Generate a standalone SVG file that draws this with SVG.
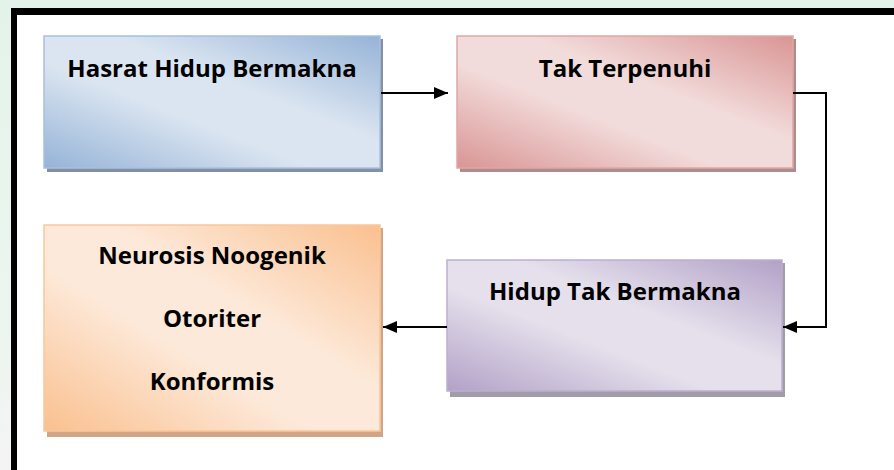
<svg xmlns="http://www.w3.org/2000/svg" width="894" height="470" viewBox="0 0 894 470">
  <defs>
    <linearGradient id="gBlue" x1="1" y1="0" x2="0" y2="1">
      <stop offset="0" stop-color="#95b3d7"/>
      <stop offset="0.4" stop-color="#dbe5f1"/>
      <stop offset="0.6" stop-color="#dbe5f1"/>
      <stop offset="1" stop-color="#95b3d7"/>
    </linearGradient>
    <linearGradient id="gRed" x1="1" y1="0" x2="0" y2="1">
      <stop offset="0" stop-color="#d99594"/>
      <stop offset="0.4" stop-color="#f2dcdb"/>
      <stop offset="0.6" stop-color="#f2dcdb"/>
      <stop offset="1" stop-color="#d99594"/>
    </linearGradient>
    <linearGradient id="gPurple" x1="1" y1="0" x2="0" y2="1">
      <stop offset="0" stop-color="#b2a1c7"/>
      <stop offset="0.4" stop-color="#e5e0ec"/>
      <stop offset="0.6" stop-color="#e5e0ec"/>
      <stop offset="1" stop-color="#b2a1c7"/>
    </linearGradient>
    <linearGradient id="gOrange" x1="1" y1="0" x2="0" y2="1">
      <stop offset="0" stop-color="#fac08f"/>
      <stop offset="0.4" stop-color="#fde9d9"/>
      <stop offset="0.6" stop-color="#fde9d9"/>
      <stop offset="1" stop-color="#fac08f"/>
    </linearGradient>
    <linearGradient id="gSide" x1="0" y1="0" x2="0" y2="1">
      <stop offset="0" stop-color="#e4f3ea"/>
      <stop offset="0.7" stop-color="#edf5f0"/>
      <stop offset="1" stop-color="#f4f4f4"/>
    </linearGradient>
    <marker id="ah" viewBox="0 0 14 12" refX="14" refY="6" markerWidth="14" markerHeight="12" markerUnits="userSpaceOnUse" orient="auto">
      <path d="M0,0 L14,6 L0,12 z" fill="#000"/>
    </marker>
  </defs>
  <style>
    .lbl { font-family: "Open Sans", "Liberation Sans", sans-serif; font-weight: 700; font-size: 24px; fill: #000; text-anchor: middle; }
    .conn { fill: none; stroke: #000; stroke-width: 2; }
  </style>

  <!-- background -->
  <rect x="0" y="0" width="894" height="470" fill="#ffffff"/>
  <rect x="0" y="0" width="894" height="9" fill="#e4f3ea"/>
  <rect x="0" y="0" width="11" height="470" fill="url(#gSide)"/>

  <!-- frame -->
  <line x1="11" y1="11.5" x2="894" y2="11.5" stroke="#000" stroke-width="7"/>
  <line x1="14" y1="8" x2="14" y2="470" stroke="#000" stroke-width="6"/>

  <g id="node-hasrat">
    <rect x="47" y="39" width="336" height="133" fill="#8391a6"/>
    <rect x="44" y="36" width="336" height="132" fill="url(#gBlue)" stroke="#a8c0de" stroke-width="1.5"/>
    <text class="lbl" x="212" y="77">Hasrat Hidup Bermakna</text>
  </g>

  <g id="node-tak-terpenuhi">
    <rect x="460" y="39" width="336" height="133" fill="#ad8c8c"/>
    <rect x="457" y="36" width="336" height="132" fill="url(#gRed)" stroke="#e0a6a5" stroke-width="1.5"/>
    <text class="lbl" x="625" y="77">Tak Terpenuhi</text>
  </g>

  <g id="node-hidup-tak-bermakna">
    <rect x="450" y="263" width="335" height="134" fill="#a29ca8"/>
    <rect x="447" y="260" width="335" height="131" fill="url(#gPurple)" stroke="#bcaed1" stroke-width="1.5"/>
    <text class="lbl" x="615" y="300">Hidup Tak Bermakna</text>
  </g>

  <g id="node-neurosis">
    <rect x="47" y="228" width="336" height="209" fill="#d1a585"/>
    <rect x="44" y="225" width="336" height="206" fill="url(#gOrange)" stroke="#f9c79d" stroke-width="1.5"/>
    <text class="lbl" x="212" y="264">Neurosis Noogenik</text>
    <text class="lbl" x="212" y="327">Otoriter</text>
    <text class="lbl" x="212" y="390">Konformis</text>
  </g>

  <g id="connectors">
    <path class="conn" d="M381,93 L448,93" marker-end="url(#ah)"/>
    <path class="conn" d="M793,93 L826,93 L826,327 L783,327" marker-end="url(#ah)"/>
    <path class="conn" d="M447,327 L383,327" marker-end="url(#ah)"/>
  </g>
</svg>
